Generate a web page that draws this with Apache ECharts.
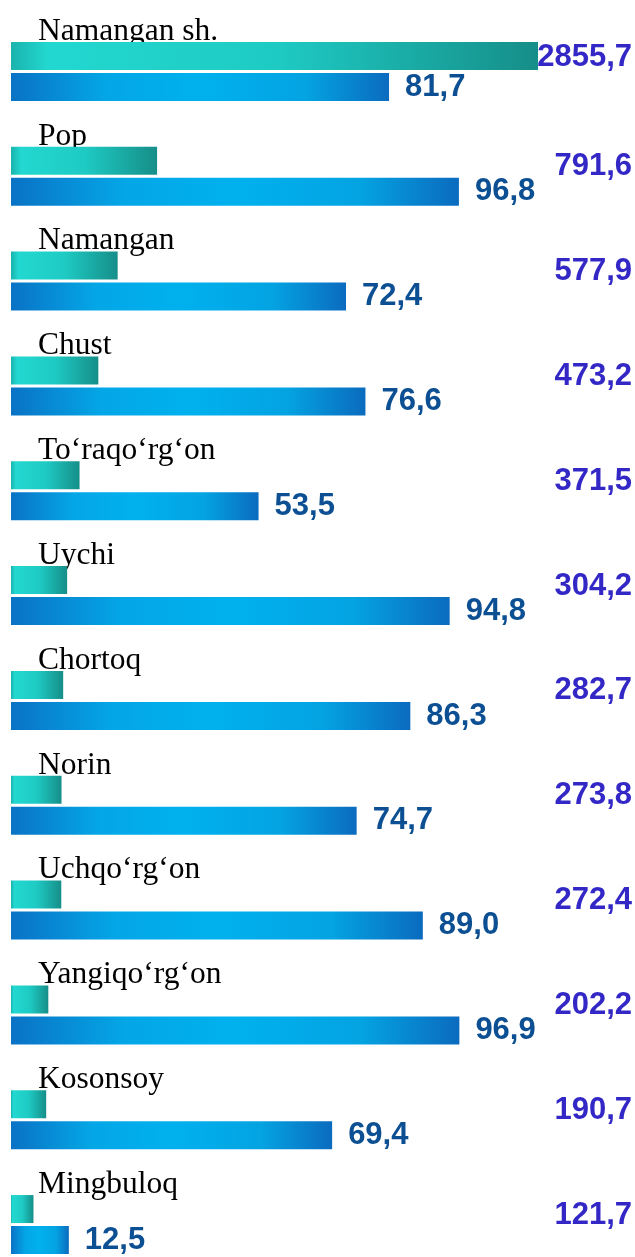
<!DOCTYPE html>
<html>
<head>
<meta charset="utf-8">
<script src="https://cdn.jsdelivr.net/npm/echarts@6/dist/echarts.min.js"></script>
<style>
html, body { margin: 0; padding: 0; background: #fff; }
#chart { width: 635px; height: 1257px; }
</style>
</head>
<body>
<div id="chart"></div>
<script>
var categories = ['Namangan sh.', 'Pop', 'Namangan', 'Chust', 'To‘raqo‘rg‘on', 'Uychi',
	'Chortoq', 'Norin', 'Uchqo‘rg‘on', 'Yangiqo‘rg‘on', 'Kosonsoy', 'Mingbuloq'];
var tealValues = [2855.7, 791.6, 577.9, 473.2, 371.5, 304.2, 282.7, 273.8, 272.4, 202.2, 190.7, 121.7];
var blueValues = [81.7, 96.8, 72.4, 76.6, 53.5, 94.8, 86.3, 74.7, 89.0, 96.9, 69.4, 12.5];

function fmt(v) {
	return v.toFixed(1).replace('.', ',');
}

var tealGrad = new echarts.graphic.LinearGradient(0, 0, 1, 0, [
	{ offset: 0, color: '#1ab3ad' },
	{ offset: 0.07, color: '#22d8d0' },
	{ offset: 0.5, color: '#1ecbc4' },
	{ offset: 1, color: '#168e89' }
]);
var blueGrad = new echarts.graphic.LinearGradient(0, 0, 1, 0, [
	{ offset: 0, color: '#0a72c5' },
	{ offset: 0.25, color: '#04a6e6' },
	{ offset: 0.5, color: '#00b1ee' },
	{ offset: 0.78, color: '#04a3e2' },
	{ offset: 1, color: '#0b6bbf' }
]);

// teal values: right aligned at the page edge
var tealData = tealValues.map(function (v, i) {
	return {
		value: v,
		label: { position: [621, i === 0 ? 16 : 20] }
	};
});

var option = {
	backgroundColor: '#fff',
	animation: false,
	grid: { left: 11, top: 19, width: 540, height: 1258, outerBoundsMode: 'none', containLabel: false },
	xAxis: [
		{ type: 'value', min: 0, max: 2926, show: false },
		{ type: 'value', min: 0, max: 116.7, show: false }
	],
	yAxis: {
		type: 'category',
		inverse: true,
		data: categories,
		axisLine: { show: false },
		axisTick: { show: false },
		axisLabel: {
			inside: true,
			interval: 0,
			showMinLabel: true,
			showMaxLabel: true,
			hideOverlap: false,
			margin: 27,
			verticalAlign: 'middle',
			// empty second line pushes the name up above the bars
			formatter: function (v) { return '{n|' + v + '}\n{s| }'; },
			rich: {
				n: { color: '#000', fontFamily: 'Liberation Serif', fontSize: 31.5, lineHeight: 36 },
				s: { fontSize: 10, lineHeight: 80, height: 80 }
			}
		}
	},
	series: [{
			type: 'bar',
			xAxisIndex: 0,
			barWidth: 28,
			barGap: '11%',
			itemStyle: { color: tealGrad },
			label: {
				show: true,
				align: 'right',
				verticalAlign: 'middle',
				color: '#3328c6',
				fontFamily: 'Liberation Sans',
				fontWeight: 'bold',
				fontSize: 31,
				formatter: function (p) { return fmt(p.value); }
			},
			data: tealData
		},
		{
			type: 'bar',
			xAxisIndex: 1,
			barWidth: 28,
			itemStyle: { color: blueGrad },
			label: {
				show: true,
				position: 'right',
				distance: 16,
				color: '#0c4f93',
				fontFamily: 'Liberation Sans',
				fontWeight: 'bold',
				fontSize: 31,
				formatter: function (p) { return fmt(p.value); }
			},
			data: blueValues
		}
	]
};

var myChart = echarts.init(document.getElementById('chart'));
myChart.setOption(option);
</script>
</body>
</html>
